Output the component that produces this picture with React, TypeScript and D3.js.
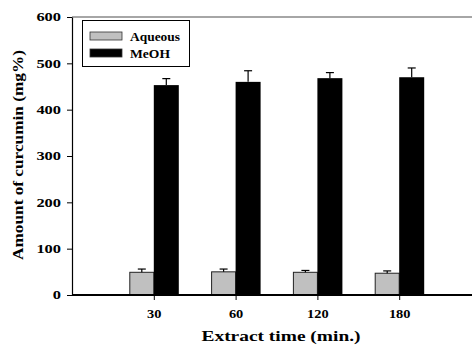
import { useEffect, useRef } from 'react';
import * as d3 from 'd3';

const categories = ['30', '60', '120', '180'];
const aqueous = [49, 50, 49, 47];
const aqueousErr = [7, 6, 4, 5];
const meoh = [453, 460, 468, 470];
const meohErr = [14, 24, 12, 20];
const yTicks = [0, 100, 200, 300, 400, 500, 600];
const legendLabels = ['Aqueous', 'MeOH'];

export default function App() {
  const svgRef = useRef<SVGSVGElement>(null);

  useEffect(() => {
    document.body.style.margin = '0';
    const svg = d3.select(svgRef.current);
    svg.selectAll('*').remove();

    const width = 472;
    const height = 347;
    const font = '"Liberation Serif", "Times New Roman", serif';

    const y = d3.scaleLinear().domain([0, 600]).range([295, 17]);
    // empty slots at both ends so 30 sits one step in from the axis
    const x = d3.scalePoint()
      .domain(['_l', ...categories, '_r'])
      .range([72, 72 + 5 * 81.8]);

    svg.attr('width', width).attr('height', height)
      .style('display', 'block')
      .style('font-family', font);

    // top frame line
    svg.append('line')
      .attr('x1', 72).attr('x2', width)
      .attr('y1', y(600)).attr('y2', y(600))
      .attr('stroke', '#888').attr('stroke-width', 1.5);

    // bars
    categories.forEach((c, i) => {
      const cx = x(c)!;
      svg.append('rect')
        .attr('x', cx - 24).attr('y', y(aqueous[i]))
        .attr('width', 24).attr('height', y(0) - y(aqueous[i]))
        .attr('fill', '#c0c0c0').attr('stroke', '#222').attr('stroke-width', 1);
      svg.append('rect')
        .attr('x', cx).attr('y', y(meoh[i]))
        .attr('width', 25).attr('height', y(0) - y(meoh[i]))
        .attr('fill', '#000');

      const errs = [
        { cx: cx - 12, v: aqueous[i], e: aqueousErr[i] },
        { cx: cx + 12.5, v: meoh[i], e: meohErr[i] }
      ];
      errs.forEach(d => {
        svg.append('line')
          .attr('x1', d.cx).attr('x2', d.cx)
          .attr('y1', y(d.v)).attr('y2', y(d.v + d.e))
          .attr('stroke', '#000').attr('stroke-width', 1.2);
        svg.append('line')
          .attr('x1', d.cx - 4).attr('x2', d.cx + 4)
          .attr('y1', y(d.v + d.e)).attr('y2', y(d.v + d.e))
          .attr('stroke', '#000').attr('stroke-width', 1.2);
      });
    });

    // y axis
    const yAxis = svg.append('g')
      .attr('transform', 'translate(72,0)')
      .call(d3.axisLeft(y).tickValues(yTicks).tickSize(5).tickPadding(6).tickSizeOuter(0));
    yAxis.select('.domain').attr('stroke', '#000').attr('stroke-width', 1.2);
    yAxis.selectAll('text')
      .style('font-family', font).style('font-weight', 'bold').style('font-size', '12px')
      .attr('textLength', (d: any) => String(d).length * 8.2)
      .attr('lengthAdjust', 'spacingAndGlyphs');

    // x axis
    const xAxis = svg.append('g')
      .attr('transform', `translate(0,${y(0)})`)
      .call(d3.axisBottom(x).tickValues(categories).tickSize(5).tickPadding(9).tickSizeOuter(0));
    xAxis.select('.domain').remove();
    xAxis.selectAll('text')
      .style('font-family', font).style('font-weight', 'bold').style('font-size', '12px')
      .attr('textLength', (d: any) => String(d).length * 7.2)
      .attr('lengthAdjust', 'spacingAndGlyphs');
    svg.append('line')
      .attr('x1', 72).attr('x2', width)
      .attr('y1', y(0)).attr('y2', y(0))
      .attr('stroke', '#000').attr('stroke-width', 2);

    // axis titles
    svg.append('text')
      .attr('x', 281).attr('y', 341)
      .attr('text-anchor', 'middle')
      .style('font-weight', 'bold').style('font-size', '15px')
      .attr('textLength', 159).attr('lengthAdjust', 'spacingAndGlyphs')
      .text('Extract time (min.)');

    svg.append('text')
      .attr('transform', 'translate(23,155) rotate(-90)')
      .attr('text-anchor', 'middle')
      .style('font-weight', 'bold').style('font-size', '14px')
      .attr('textLength', 210).attr('lengthAdjust', 'spacingAndGlyphs')
      .text('Amount of curcumin (mg%)');

    // legend
    const legend = svg.append('g');
    legend.append('rect')
      .attr('x', 82.5).attr('y', 20.5).attr('width', 107).attr('height', 46)
      .attr('fill', '#fff').attr('stroke', '#000').attr('stroke-width', 1);
    const legendColors = ['#c0c0c0', '#000'];
    const legendWidths = [50, 40];
    legendLabels.forEach((label, i) => {
      const ly = 32 + i * 17;
      legend.append('rect')
        .attr('x', 90).attr('y', ly).attr('width', 32).attr('height', 8)
        .attr('fill', legendColors[i]).attr('stroke', '#333').attr('stroke-width', 0.8);
      legend.append('text')
        .attr('x', 130).attr('y', ly + 8.5)
        .style('font-weight', 'bold').style('font-size', '13px')
        .attr('textLength', legendWidths[i]).attr('lengthAdjust', 'spacingAndGlyphs')
        .text(label);
    });
  }, []);

  return <svg ref={svgRef}></svg>;
}
